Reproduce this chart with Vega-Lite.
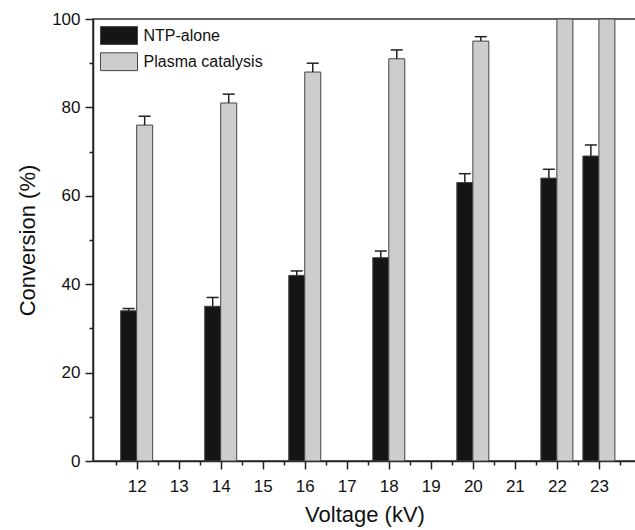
{
  "$schema": "https://vega.github.io/schema/vega-lite/v6.json",
  "autosize": {"type": "none"},
  "width": 543,
  "height": 442,
  "padding": {"left": 93, "top": 19, "right": 0, "bottom": 69},
  "background": "white",
  "config": {
    "view": {"stroke": "#333", "strokeWidth": 1.5},
    "font": "Liberation Sans",
    "axis": {
      "grid": false,
      "labelFont": "Liberation Sans",
      "labelFontSize": 17,
      "labelColor": "#111",
      "titleFont": "Liberation Sans",
      "titleFontSize": 22,
      "titleFontWeight": "normal",
      "titleColor": "#111",
      "domainColor": "#222",
      "domainWidth": 1.5,
      "tickColor": "#222",
      "tickWidth": 1.5
    },
    "legend": {
      "labelFont": "Liberation Sans",
      "labelFontSize": 16,
      "labelColor": "#111"
    }
  },
  "data": {
    "values": [
      {"v": 12, "s": "NTP-alone", "c": 34, "hi": 34.5},
      {"v": 14, "s": "NTP-alone", "c": 35, "hi": 37},
      {"v": 16, "s": "NTP-alone", "c": 42, "hi": 43},
      {"v": 18, "s": "NTP-alone", "c": 46, "hi": 47.5},
      {"v": 20, "s": "NTP-alone", "c": 63, "hi": 65},
      {"v": 22, "s": "NTP-alone", "c": 64, "hi": 66},
      {"v": 23, "s": "NTP-alone", "c": 69, "hi": 71.5},
      {"v": 12, "s": "Plasma catalysis", "c": 76, "hi": 78},
      {"v": 14, "s": "Plasma catalysis", "c": 81, "hi": 83},
      {"v": 16, "s": "Plasma catalysis", "c": 88, "hi": 90},
      {"v": 18, "s": "Plasma catalysis", "c": 91, "hi": 93},
      {"v": 20, "s": "Plasma catalysis", "c": 95, "hi": 96},
      {"v": 22, "s": "Plasma catalysis", "c": 100, "hi": 100},
      {"v": 23, "s": "Plasma catalysis", "c": 100, "hi": 100}
    ]
  },
  "resolve": {"axis": {"x": "independent", "y": "independent"}},
  "layer": [
    {
      "transform": [{"filter": "datum.s === 'NTP-alone'"}],
      "mark": {"type": "bar", "width": 16, "xOffset": -8, "stroke": "#444", "strokeWidth": 1},
      "encoding": {
        "x": {
          "field": "v", "type": "quantitative",
          "scale": {"domain": [11.08, 23.764], "nice": false, "zero": false},
          "axis": {"orient": "bottom", "values": [12,13,14,15,16,17,18,19,20,21,22,23], "format": "d", "tickSize": 8, "labelPadding": 9, "title": "Voltage (kV)", "titlePadding": 10}
        },
        "y": {
          "field": "c", "type": "quantitative",
          "scale": {"domain": [0, 100], "nice": false},
          "axis": {"orient": "left", "values": [0,20,40,60,80,100], "tickSize": 8, "labelPadding": 5, "title": "Conversion (%)", "titlePadding": 12}
        },
        "color": {
          "field": "s", "type": "nominal",
          "scale": {"domain": ["NTP-alone", "Plasma catalysis"], "range": ["#151515", "#cdcdcd"]},
          "legend": {
            "title": null,
            "orient": "none",
            "legendX": 16.5,
            "legendY": 7,
            "padding": 0,
            "symbolType": "M-2.08,-1H2.08V1H-2.08Z",
            "symbolSize": 317,
            "symbolStrokeColor": "#333",
            "symbolStrokeWidth": 1,
            "symbolOpacity": 1,
            "labelOffset": 15,
            "rowPadding": 3.2
          }
        }
      }
    },
    {
      "transform": [{"filter": "datum.s === 'Plasma catalysis'"}],
      "mark": {"type": "bar", "width": 16, "xOffset": 8, "stroke": "#444", "strokeWidth": 1},
      "encoding": {
        "x": {"field": "v", "type": "quantitative", "axis": null},
        "y": {"field": "c", "type": "quantitative", "axis": null},
        "color": {"field": "s", "type": "nominal"}
      }
    },
    {
      "transform": [{"filter": "datum.s === 'NTP-alone'"}],
      "mark": {"type": "rule", "xOffset": -8, "color": "#222", "strokeWidth": 1.5},
      "encoding": {
        "x": {
          "field": "v", "type": "quantitative",
          "axis": {"orient": "bottom", "values": [11.5,12.5,13.5,14.5,15.5,16.5,17.5,18.5,19.5,20.5,21.5,22.5,23.5], "tickSize": 4, "labels": false, "domain": false, "title": null}
        },
        "y": {
          "field": "c", "type": "quantitative",
          "axis": {"orient": "left", "values": [10,30,50,70,90], "tickSize": 4, "labels": false, "domain": false, "title": null}
        },
        "y2": {"field": "hi"}
      }
    },
    {
      "transform": [{"filter": "datum.s === 'Plasma catalysis' && datum.hi > datum.c"}],
      "mark": {"type": "rule", "xOffset": 8, "color": "#222", "strokeWidth": 1.5},
      "encoding": {
        "x": {"field": "v", "type": "quantitative", "axis": null},
        "y": {"field": "c", "type": "quantitative", "axis": null},
        "y2": {"field": "hi"}
      }
    },
    {
      "transform": [{"filter": "datum.s === 'NTP-alone'"}],
      "mark": {"type": "tick", "orient": "horizontal", "xOffset": -8, "size": 12, "thickness": 1.5, "color": "#222", "opacity": 1},
      "encoding": {
        "x": {"field": "v", "type": "quantitative", "axis": null},
        "y": {"field": "hi", "type": "quantitative", "axis": null}
      }
    },
    {
      "transform": [{"filter": "datum.s === 'Plasma catalysis' && datum.hi > datum.c"}],
      "mark": {"type": "tick", "orient": "horizontal", "xOffset": 8, "size": 12, "thickness": 1.5, "color": "#222", "opacity": 1},
      "encoding": {
        "x": {"field": "v", "type": "quantitative", "axis": null},
        "y": {"field": "hi", "type": "quantitative", "axis": null}
      }
    }
  ]
}
